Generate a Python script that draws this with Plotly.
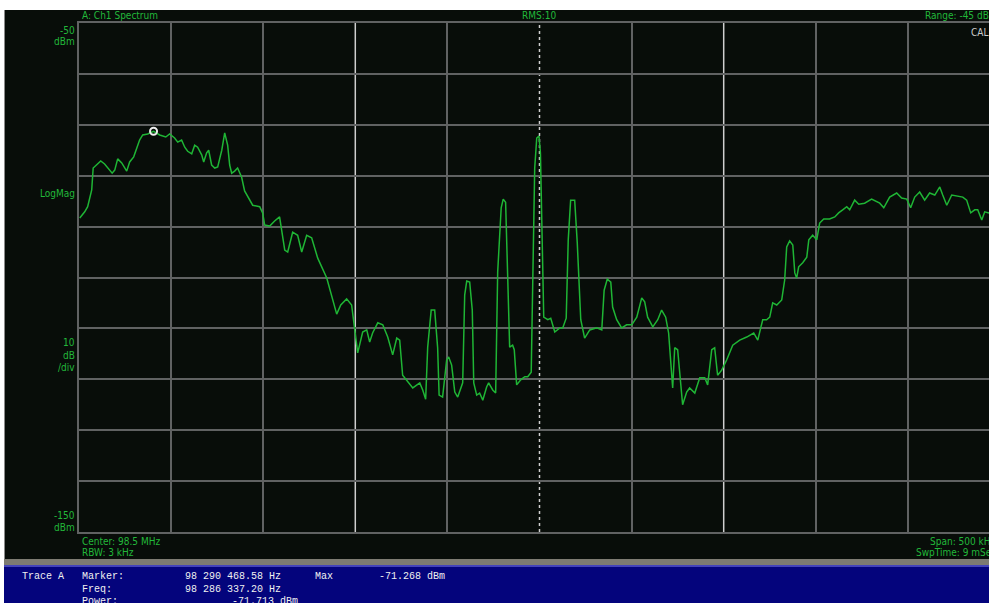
import plotly.graph_objects as go

# ---------------- data (read from the screen) ----------------
# frequency as offset from centre (98.5 MHz), kHz ; level in dBm
freq_khz = [
    -249.6, -246.9, -245.3, -243.1, -242.3, -240.4, -238.2, -236.1, -234.4, -232.0,
    -230.6, -229.0, -226.8, -224.1, -222.5, -220.3, -217.1, -215.4, -212.7, -209.5,
    -206.2, -202.9, -200.8, -198.1, -196.4, -194.3, -192.6, -191.0, -188.8, -187.2,
    -185.6, -183.4, -182.3, -180.7, -179.6, -178.0, -176.3, -174.7, -172.5, -170.9,
    -169.3, -168.2, -167.1, -165.5, -163.9, -161.7, -160.1, -158.4, -155.7, -151.9,
    -150.3, -149.2, -146.5, -143.8, -141.1, -138.3, -136.7, -134.0, -131.3, -129.1,
    -126.4, -123.7, -120.4, -115.5, -112.8, -110.1, -107.9, -104.7, -102.0, -100.3,
    -98.7, -96.0, -93.8, -92.2, -90.6, -87.8, -85.1, -82.4, -79.7, -77.5,
    -75.9, -74.3, -71.6, -68.8, -65.0, -63.4, -61.8, -60.7, -58.8, -56.9,
    -55.3, -54.5, -52.6, -50.4, -49.3, -47.7, -46.0, -44.4, -41.7, -40.6,
    -39.5, -37.9, -36.5, -35.7, -34.1, -32.5, -30.8, -28.7, -27.6, -25.4,
    -23.8, -22.7, -20.8, -19.7, -18.4, -17.3, -16.2, -14.6, -13.7, -12.4,
    -10.2, -8.0, -6.4, -4.5, -3.7, -2.6, -1.5, -0.3, 0.5, 1.5,
    2.3, 4.5, 6.1, 8.3, 11.0, 12.6, 14.5, 15.6, 16.9, 19.1,
    20.5, 22.4, 24.5, 27.3, 31.1, 33.8, 35.1, 36.8, 38.7, 39.7,
    41.9, 44.6, 47.3, 50.1, 52.8, 55.5, 57.1, 58.7, 61.5, 64.2,
    66.3, 68.5, 70.1, 72.3, 73.4, 75.0, 76.7, 77.7, 79.9, 81.5,
    84.3, 87.0, 89.7, 91.3, 93.5, 95.1, 96.7, 98.9, 101.6, 104.9,
    108.7, 112.5, 116.3, 118.5, 120.1, 121.2, 123.3, 125.0, 126.6, 128.8,
    131.5, 133.1, 134.2, 135.8, 137.5, 138.6, 139.6, 140.7, 142.9, 145.1,
    146.2, 148.3, 150.5, 152.1, 154.3, 157.5, 160.3, 162.4, 164.6, 166.8,
    168.4, 171.1, 173.3, 176.5, 180.3, 183.1, 184.7, 186.9, 190.1, 193.9,
    196.6, 199.4, 201.5, 203.7, 206.4, 209.1, 211.8, 214.6, 217.3, 218.9,
    221.1, 223.8, 227.0, 229.8, 231.9, 234.1, 236.3, 237.9, 240.1, 241.7,
    243.9, 250.0,
]
level_dbm = [
    -88.3, -87.1, -86.1, -82.8, -78.5, -77.9, -77.1, -77.7, -78.5, -79.5,
    -78.9, -76.7, -77.5, -79.1, -77.3, -76.3, -73.0, -72.0, -71.8, -71.27,
    -72.0, -72.4, -71.8, -72.6, -73.4, -73.0, -74.4, -75.2, -75.7, -74.0,
    -74.4, -75.9, -77.3, -75.5, -75.0, -77.9, -78.5, -78.3, -75.0, -71.6,
    -74.0, -77.9, -79.5, -79.1, -78.5, -80.3, -83.0, -84.2, -85.8, -86.1,
    -87.3, -89.7, -89.9, -88.9, -88.1, -94.6, -95.0, -91.1, -91.7, -95.0,
    -91.7, -92.2, -96.2, -100.1, -103.4, -107.2, -105.4, -104.2, -105.4, -110.5,
    -114.8, -110.7, -110.3, -112.7, -110.9, -108.9, -109.3, -111.7, -115.2, -111.9,
    -112.3, -119.2, -120.5, -121.7, -120.7, -122.1, -123.9, -113.7, -106.4, -106.4,
    -113.8, -123.1, -123.5, -116.2, -115.6, -117.2, -122.5, -123.5, -120.7, -103.4,
    -100.7, -100.9, -106.4, -120.7, -123.1, -122.7, -124.1, -121.5, -120.7, -122.1,
    -122.7, -98.9, -86.3, -84.6, -85.2, -99.1, -113.7, -113.3, -114.2, -121.1,
    -120.1, -119.5, -119.5, -118.6, -98.9, -78.5, -72.6, -72.2, -75.5, -90.7,
    -107.8, -108.3, -108.0, -110.7, -109.9, -109.9, -108.0, -92.6, -84.8, -84.8,
    -93.2, -108.3, -111.9, -110.3, -109.9, -110.3, -102.5, -100.3, -100.9, -105.8,
    -108.3, -109.9, -109.3, -109.3, -107.8, -104.0, -104.8, -107.8, -109.7, -108.3,
    -106.4, -107.8, -110.9, -121.7, -113.8, -114.2, -120.7, -125.0, -122.5, -121.7,
    -122.7, -119.7, -119.7, -121.1, -114.2, -113.8, -119.2, -118.2, -116.2, -113.3,
    -112.3, -111.7, -110.9, -112.3, -109.9, -108.3, -108.3, -107.8, -105.0, -105.4,
    -104.4, -100.5, -94.0, -92.8, -93.6, -99.1, -100.1, -97.9, -97.1, -96.0,
    -92.6, -91.7, -92.6, -89.3, -88.5, -88.5, -88.1, -87.3, -86.7, -86.1,
    -86.7, -84.8, -85.6, -85.4, -84.6, -85.2, -85.4, -86.3, -84.2, -83.4,
    -84.4, -84.6, -86.3, -84.2, -83.2, -84.8, -83.4, -83.8, -82.2, -83.8,
    -85.8, -83.8, -84.0, -84.2, -84.8, -87.3, -86.7, -86.7, -88.7, -87.1,
    -87.3, -86.5,
]
marker_freq_khz = -209.53
marker_level_dbm = -71.268

y_ref_dbm = -50
y_bottom_dbm = -150
db_per_div = 10
span_khz = 500

# ---------------- layout helpers ----------------
W, H = 989, 603
ML, MR, MT, MB = 79, 0, 23, 71
PW, PH = W - ML - MR, H - MT - MB


def px(x):
    return (x - ML) / PW


def py(y):
    return (H - MB - y) / PH


GREEN = "#22b83a"
TRACE = "#1fb535"
BG = "#080d09"
GRID = "#606262"
BRIGHT = "#cfcfcf"
NARROW = "DejaVu Sans Condensed, Liberation Sans Narrow, Arial Narrow, sans-serif"
MONO = "Liberation Mono, DejaVu Sans Mono, monospace"

fig = go.Figure()
fig.add_trace(go.Scatter(x=freq_khz, y=level_dbm, mode="lines",
                         line=dict(color=TRACE, width=1.5), hoverinfo="skip"))
fig.add_trace(go.Scatter(x=[marker_freq_khz], y=[marker_level_dbm], mode="markers",
                         marker=dict(symbol="circle-open", size=7, color="#eeeeee",
                                     line=dict(color="#eeeeee", width=2)),
                         hoverinfo="skip"))

half = span_khz / 2
x_right = -half + PW * (span_khz / (10 * 92.1))
grid_vals = [-half + i * span_khz / 10 for i in range(10)]
grey_vals = [v for v in grid_vals if abs(v) > 1e-9 and abs(abs(v) - 100) > 1e-9]

fig.update_layout(
    width=W, height=H,
    margin=dict(l=ML, r=MR, t=MT, b=MB, pad=0),
    paper_bgcolor=BG, plot_bgcolor=BG,
    showlegend=False,
    xaxis=dict(range=[-half, x_right], tickvals=grey_vals, showticklabels=False,
               showgrid=True, gridcolor=GRID, gridwidth=1.5, zeroline=False,
               showline=True, linecolor=GRID, linewidth=1.5, mirror=True,
               ticks=""),
    yaxis=dict(range=[y_bottom_dbm, y_ref_dbm], dtick=db_per_div, tick0=y_bottom_dbm,
               showticklabels=False, showgrid=True, gridcolor=GRID, gridwidth=1.5,
               zeroline=False, showline=True, linecolor=GRID, linewidth=1.5,
               mirror=False, ticks=""),
)

shapes = []
for v in (-100, 100):
    shapes.append(dict(type="line", xref="x", yref="paper", x0=v, x1=v, y0=0, y1=1,
                       line=dict(color=BRIGHT, width=1.5), layer="between"))
shapes.append(dict(type="line", xref="x", yref="paper", x0=0, x1=0, y0=0, y1=1,
                   line=dict(color=BRIGHT, width=1.5, dash="dot"), layer="between"))
# white window border (top / left)
shapes.append(dict(type="rect", xref="paper", yref="paper", x0=px(0), x1=px(W),
                   y0=py(10), y1=py(0), fillcolor="white", line=dict(width=0), layer="above"))
shapes.append(dict(type="rect", xref="paper", yref="paper", x0=px(0), x1=px(4),
                   y0=py(H), y1=py(0), fillcolor="white", line=dict(width=0), layer="above"))
shapes.append(dict(type="line", xref="paper", yref="paper", x0=px(4.5), x1=px(4.5),
                   y0=py(559), y1=py(10), line=dict(color="#8a8a8a", width=1), layer="above"))
# separator and blue status bar
shapes.append(dict(type="rect", xref="paper", yref="paper", x0=px(4), x1=px(W),
                   y0=py(565), y1=py(559), fillcolor="#7d7b72", line=dict(width=0), layer="above"))
shapes.append(dict(type="rect", xref="paper", yref="paper", x0=px(4), x1=px(W),
                   y0=py(H), y1=py(565), fillcolor="#04047c", line=dict(width=0), layer="above"))
shapes.append(dict(type="line", xref="paper", yref="paper", x0=px(4), x1=px(W),
                   y0=py(566), y1=py(566), line=dict(color="#5a5ad0", width=1.5), layer="above"))
fig.update_layout(shapes=shapes)

ann = []


def txt(s, x, y, anchor="left", color=GREEN, size=10, family=NARROW):
    ann.append(dict(text=s, xref="paper", yref="paper", x=px(x), y=py(y),
                    xanchor=anchor, yanchor="middle", showarrow=False,
                    font=dict(family=family, size=size, color=color)))


txt("A: Ch1 Spectrum", 80, 16)
txt("RMS:10", 539, 16, anchor="center")
txt("Range: -45 dBm", 923, 16)
txt("CAL", 969, 32, color="#cccccc")
txt("-50", 77, 30, anchor="right")
txt("dBm", 77, 41, anchor="right")
txt("LogMag", 77, 193, anchor="right")
txt("10", 77, 342, anchor="right")
txt("dB", 77, 355, anchor="right")
txt("/div", 77, 368, anchor="right")
txt("-150", 77, 515, anchor="right")
txt("dBm", 77, 527, anchor="right")
txt("Center: 98.5 MHz", 80, 541)
txt("RBW: 3 kHz", 80, 552)
txt("Span: 500 kHz", 928, 541)
txt("SwpTime: 9 mSec", 914, 552)

W_ = "#f0f0f0"
txt("Trace A", 20, 576, color=W_, family=MONO)
txt("Marker:", 80, 576, color=W_, family=MONO)
txt("98 290 468.58 Hz", 183, 576, color=W_, family=MONO)
txt("Max", 313, 576, color=W_, family=MONO)
txt("-71.268 dBm", 377, 576, color=W_, family=MONO)
txt("Freq:", 80, 589, color=W_, family=MONO)
txt("98 286 337.20 Hz", 183, 589, color=W_, family=MONO)
txt("Power:", 80, 601, color=W_, family=MONO)
txt("-71.713 dBm", 230, 601, color=W_, family=MONO)
fig.update_layout(annotations=ann)

fig.write_html("out.html")
